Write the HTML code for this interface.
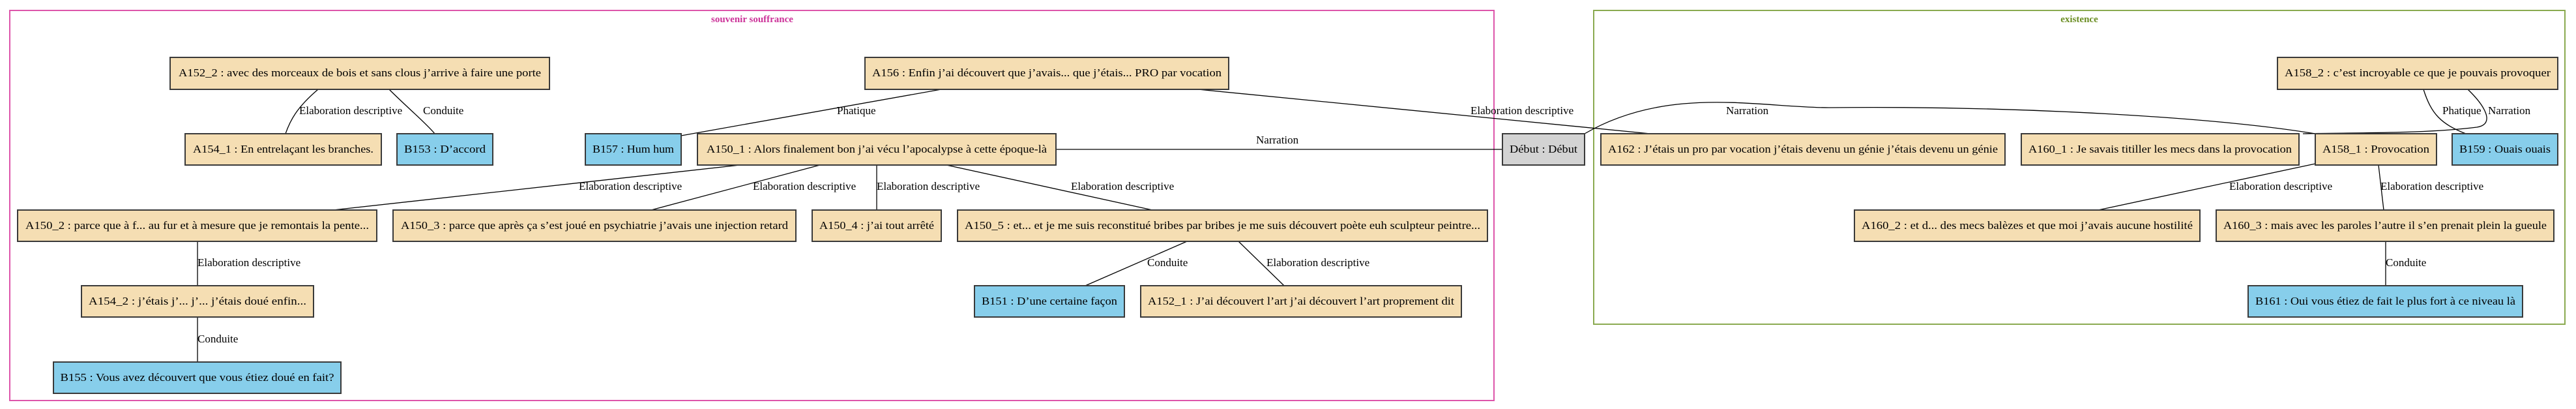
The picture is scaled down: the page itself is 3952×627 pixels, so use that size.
<!DOCTYPE html>
<html><head><meta charset="utf-8"><style>
html,body{margin:0;padding:0;background:#fff;}
svg{display:block;}
text{font-family:"Liberation Serif","DejaVu Serif",serif;font-size:17px;fill:#000;}
.n{stroke:#3a3a3a;stroke-width:2;}
.w{fill:#f5deb3;}.b{fill:#87ceeb;}.g{fill:#d3d3d3;}
.e{fill:none;stroke:#000;stroke-width:1.3;}
</style></head><body>
<svg width="3952" height="627" viewBox="0 0 3952 627" xmlns="http://www.w3.org/2000/svg">
<rect x="15" y="16" width="2277" height="598" fill="none" stroke="#dd55aa" stroke-width="2"/>
<text x="1154" y="34" text-anchor="middle" style="fill:#cc3399;font-weight:bold;font-size:15px">souvenir souffrance</text>
<rect x="2445" y="16" width="1490" height="481" fill="none" stroke="#8aaa50" stroke-width="2"/>
<text x="3190" y="34" text-anchor="middle" style="fill:#6b8e23;font-weight:bold;font-size:15px">existence</text>

<!-- edges -->
<path class="e" d="M488,137 C455,165 445,185 438,205"/>
<path class="e" d="M597,137 C625,165 655,190 667,205"/>
<line class="e" x1="1444" y1="137" x2="1045" y2="208"/>
<line class="e" x1="1838" y1="137" x2="2532" y2="205"/>
<line class="e" x1="1620" y1="229" x2="2304" y2="229"/>
<line class="e" x1="1135" y1="253" x2="511" y2="322"/>
<line class="e" x1="1258" y1="253" x2="999" y2="322"/>
<line class="e" x1="1345" y1="253" x2="1345" y2="322"/>
<line class="e" x1="1452" y1="253" x2="1768" y2="322"/>
<line class="e" x1="1821" y1="370" x2="1665" y2="438"/>
<line class="e" x1="1900" y1="370" x2="1970" y2="438"/>
<line class="e" x1="303" y1="370" x2="303" y2="438"/>
<line class="e" x1="303" y1="486" x2="303" y2="555"/>
<path class="e" d="M2431,205 C2560,130 2700,165 2806,165 C3100,162 3400,180 3552,205"/>
<path class="e" d="M3786,137 C3810,160 3830,190 3800,195 C3720,205 3620,203 3533,205"/>
<path class="e" d="M3718,137 C3730,175 3745,190 3783,205"/>
<line class="e" x1="3552" y1="251" x2="3219" y2="322"/>
<line class="e" x1="3649" y1="253" x2="3657" y2="322"/>
<line class="e" x1="3660" y1="370" x2="3660" y2="438"/>

<!-- edge labels -->
<text x="459" y="175">Elaboration descriptive</text>
<text x="649" y="175">Conduite</text>
<text x="1284" y="175">Phatique</text>
<text x="2256" y="175">Elaboration descriptive</text>
<text x="1927" y="220">Narration</text>
<text x="888" y="291">Elaboration descriptive</text>
<text x="1155" y="291">Elaboration descriptive</text>
<text x="1345" y="291">Elaboration descriptive</text>
<text x="1643" y="291">Elaboration descriptive</text>
<text x="303" y="408">Elaboration descriptive</text>
<text x="303" y="525">Conduite</text>
<text x="1760" y="408">Conduite</text>
<text x="1943" y="408">Elaboration descriptive</text>
<text x="2648" y="175">Narration</text>
<text x="3747" y="175">Phatique</text>
<text x="3817" y="175">Narration</text>
<text x="3420" y="291">Elaboration descriptive</text>
<text x="3652" y="291">Elaboration descriptive</text>
<text x="3660" y="408">Conduite</text>

<!-- nodes -->
<g>
<rect class="n w" x="261" y="88" width="582" height="49"/><text x="552" y="117" text-anchor="middle" textLength="556" lengthAdjust="spacingAndGlyphs">A152_2 : avec des morceaux de bois et sans clous j’arrive à faire une porte</text>
<rect class="n w" x="284" y="205" width="301" height="48"/><text x="434.5" y="234" text-anchor="middle" textLength="277" lengthAdjust="spacingAndGlyphs">A154_1 : En entrelaçant les branches.</text>
<rect class="n b" x="609" y="205" width="147" height="48"/><text x="682.5" y="234" text-anchor="middle" textLength="125" lengthAdjust="spacingAndGlyphs">B153 : D’accord</text>
<rect class="n b" x="898" y="205" width="147" height="48"/><text x="971.5" y="234" text-anchor="middle" textLength="125" lengthAdjust="spacingAndGlyphs">B157 : Hum hum</text>
<rect class="n w" x="1070" y="205" width="550" height="48"/><text x="1345" y="234" text-anchor="middle" textLength="522" lengthAdjust="spacingAndGlyphs">A150_1 : Alors finalement bon j’ai vécu l’apocalypse à cette époque-là</text>
<rect class="n w" x="1327" y="88" width="558" height="49"/><text x="1606" y="117" text-anchor="middle" textLength="536" lengthAdjust="spacingAndGlyphs">A156 : Enfin j’ai découvert que j’avais... que j’étais... PRO par vocation</text>
<rect class="n g" x="2305" y="205" width="126" height="48"/><text x="2368" y="234" text-anchor="middle" textLength="104" lengthAdjust="spacingAndGlyphs">Début : Début</text>
<rect class="n w" x="27" y="322" width="551" height="48"/><text x="302.5" y="351" text-anchor="middle" textLength="527" lengthAdjust="spacingAndGlyphs">A150_2 : parce que à f... au fur et à mesure que je remontais la pente...</text>
<rect class="n w" x="603" y="322" width="618" height="48"/><text x="912" y="351" text-anchor="middle" textLength="594" lengthAdjust="spacingAndGlyphs">A150_3 : parce que après ça s’est joué en psychiatrie j’avais une injection retard</text>
<rect class="n w" x="1246" y="322" width="198" height="48"/><text x="1345" y="351" text-anchor="middle" textLength="176" lengthAdjust="spacingAndGlyphs">A150_4 : j’ai tout arrêté</text>
<rect class="n w" x="1469" y="322" width="813" height="48"/><text x="1875.5" y="351" text-anchor="middle" textLength="791" lengthAdjust="spacingAndGlyphs">A150_5 : et... et je me suis reconstitué bribes par bribes je me suis découvert poète euh sculpteur peintre...</text>
<rect class="n w" x="125" y="438" width="356" height="48"/><text x="303" y="467" text-anchor="middle" textLength="334" lengthAdjust="spacingAndGlyphs">A154_2 : j’étais j’... j’... j’étais doué enfin...</text>
<rect class="n b" x="82" y="555" width="441" height="48"/><text x="302.5" y="584" text-anchor="middle" textLength="420" lengthAdjust="spacingAndGlyphs">B155 : Vous avez découvert que vous étiez doué en fait?</text>
<rect class="n b" x="1495" y="438" width="230" height="48"/><text x="1610" y="467" text-anchor="middle" textLength="208" lengthAdjust="spacingAndGlyphs">B151 : D’une certaine façon</text>
<rect class="n w" x="1750" y="438" width="492" height="48"/><text x="1996" y="467" text-anchor="middle" textLength="470" lengthAdjust="spacingAndGlyphs">A152_1 : J’ai découvert l’art j’ai découvert l’art proprement dit</text>
<rect class="n w" x="2456" y="205" width="620" height="48"/><text x="2766" y="234" text-anchor="middle" textLength="598" lengthAdjust="spacingAndGlyphs">A162 : J’étais un pro par vocation j’étais devenu un génie j’étais devenu un génie</text>
<rect class="n w" x="3101" y="205" width="426" height="48"/><text x="3314" y="234" text-anchor="middle" textLength="404" lengthAdjust="spacingAndGlyphs">A160_1 : Je savais titiller les mecs dans la provocation</text>
<rect class="n w" x="3552" y="205" width="186" height="48"/><text x="3645" y="234" text-anchor="middle" textLength="164" lengthAdjust="spacingAndGlyphs">A158_1 : Provocation</text>
<rect class="n b" x="3762" y="205" width="162" height="48"/><text x="3843" y="234" text-anchor="middle" textLength="140" lengthAdjust="spacingAndGlyphs">B159 : Ouais ouais</text>
<rect class="n w" x="3494" y="88" width="430" height="49"/><text x="3709" y="117" text-anchor="middle" textLength="408" lengthAdjust="spacingAndGlyphs">A158_2 : c’est incroyable ce que je pouvais provoquer</text>
<rect class="n w" x="2845" y="322" width="530" height="48"/><text x="3110" y="351" text-anchor="middle" textLength="508" lengthAdjust="spacingAndGlyphs">A160_2 : et d... des mecs balèzes et que moi j’avais aucune hostilité</text>
<rect class="n w" x="3400" y="322" width="518" height="48"/><text x="3659" y="351" text-anchor="middle" textLength="496" lengthAdjust="spacingAndGlyphs">A160_3 : mais avec les paroles l’autre il s’en prenait plein la gueule</text>
<rect class="n b" x="3449" y="438" width="421" height="48"/><text x="3659.5" y="467" text-anchor="middle" textLength="399" lengthAdjust="spacingAndGlyphs">B161 : Oui vous étiez de fait le plus fort à ce niveau là</text>
</g>
</svg>
</body></html>
